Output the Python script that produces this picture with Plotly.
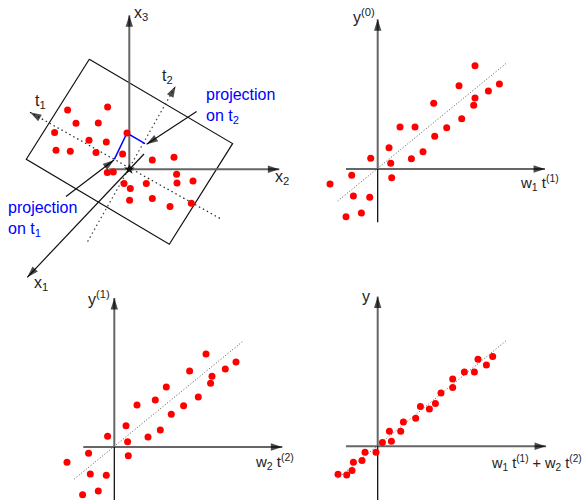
import plotly.graph_objects as go
from plotly.subplots import make_subplots

t_x = [-21.7, -61.7, -53.3, -31, -74.7, -2.3, -40.3, -23, -73.3, -59, -33.3, -6.7, 23,
       44.7, -22, -16, 47.3, 47.7, 63.7, -5.3, 17, 1, 0.3, 23, 40.7, 62]
t_y = [62.3, 59.3, 46, 46.3, 36.7, 36.3, 29, 27.3, 19, 18, 16.7, 15.3, 9.3,
       12, -3.3, -2.7, -5, -13.7, -11.7, -14.3, -14.3, -19.3, -31, -29.3, -37.3, -34]
plane_x = [-40, 103.3, 40, -103, -40]
plane_y = [110, 25.7, -75, 10, 110]
proj_x = [-15, -2.3, 15.7]
proj_y = [10, 36.3, 25.7]

y0_x = [97.3, 81.3, 121.7, 110.7, 97.3, 96, 56, 84, 22.3, 37.3, 69, 57,
        11.3, 45.3, -7, 33.7, 13, -26, 14, -47.7, -24.3, -8, -16.3, -31.7]
y0_y = [103.3, 83.3, 85, 78, 71, 63.7, 65.7, 50.3, 42, 42, 41.3, 32.7,
        21.3, 17.3, 10.7, 10.3, 5.7, -6.3, -8.7, -15, -27, -28.3, -44, -47.7]

y1_x = [91.7, 75.3, 121.7, 111, 97.7, 96.3, 52, 84, 41, 22.7, 69.3, 57,
        11.7, 46, -6.7, 33.7, 13.3, -25.7, 14, -47.3, -24, -8, -16, -31.7]
y1_y = [93, 76, 85, 78, 70.7, 63.7, 60, 50, 47, 42, 41.3, 32.7,
        21.3, 17, 10.7, 10, 5.3, -6.3, -8.7, -15.3, -27, -28.3, -44, -47.7]

y_x = [115, 100.3, 108.7, 86.7, 96.7, 75, 75, 63.3, 57.7, 42.7, 51.7, 38,
       25.7, 11.7, 23, 13.7, 4.7, -1.7, -12.7, -15.7, -24.3, -25.7, -39.7, -31]
y_y = [89.7, 87, 81.3, 74.3, 74.3, 67.3, 58.7, 53.3, 42.7, 39.7, 37.3, 28,
       24.3, 15, 15, 5, 3.7, -6, -6, -14.3, -16, -24.3, -28, -28.7]

fit_x = [-40, 128.3]
fit_y = [-32, 105.5]

RED = "#ff0000"
BLUE = "#0000ff"
GRAY = "#666666"
TEXT = "#222222"
FONT = "Liberation Sans"
WIDTH = 582
HEIGHT = 503
TOP_ROW = 292  # x1 label hangs far below the first panel

fig = make_subplots(rows=2, cols=2, horizontal_spacing=0, vertical_spacing=0,
                    row_heights=[TOP_ROW / HEIGHT, 1 - TOP_ROW / HEIGHT])


def line(x, y, row, col, color="#000000", width=1.0, dash="solid"):
    fig.add_trace(go.Scatter(x=x, y=y, mode="lines", showlegend=False, hoverinfo="skip",
                             line=dict(color=color, width=width, dash=dash)),
                  row=row, col=col)


def dots(x, y, row, col):
    fig.add_trace(go.Scatter(x=x, y=y, mode="markers", showlegend=False, cliponaxis=False,
                             marker=dict(color=RED, size=7)),
                  row=row, col=col)


def head(x, y, back_x, back_y, row, col, color="#000000"):
    # arrow head only, the shaft is a line trace. Marker turns along the two points
    fig.add_trace(go.Scatter(x=[x - back_x, x], y=[y - back_y, y], mode="markers",
                             showlegend=False, hoverinfo="skip", cliponaxis=False,
                             marker=dict(symbol="arrow", size=[0, 12], angleref="previous",
                                         color=color, line=dict(width=0))),
                  row=row, col=col)


def label(text, x, y, row, col, size=16, color=TEXT, anchor="center"):
    fig.add_annotation(x=x, y=y, xref="x", yref="y", row=row, col=col, text=text,
                       showarrow=False, xanchor=anchor, align="left",
                       font=dict(family=FONT, size=size, color=color))


def axes(xmin, xmax, ymin, ymax, row, col):
    line([xmin, xmax], [0, 0], row, col, GRAY, 2)
    line([0, 0], [0, ymax], row, col, GRAY, 2)
    line([0, 0], [ymin, 0], row, col, "#000000", 1.2)
    head(xmax, 0, 8, 0, row, col)
    head(0, ymax, 0, 8, row, col)


# panel 1, the plane in x space
line(plane_x, plane_y, 1, 1, "#111111", 1.2)
line([-99.3, 91.7], [57, -49.7], 1, 1, "#222222", 1.2, "1.5px,3px")
line([-41.7, 46.3], [-72.3, 83.3], 1, 1, "#444444", 1.2, "1.5px,3px")
head(-99.3, 57, -6, 3.4, 1, 1)
head(46.3, 83.3, 3.5, 6.5, 1, 1)
axes(-20, 150, 0, 154, 1, 1)
line([14.7, -102], [15.3, -108], 1, 1, "#111111", 1.2)
head(-102, -108, -6, -6.3, 1, 1)
line(proj_x, proj_y, 1, 1, BLUE, 1.5)
line([-63.3, -15.3], [-27.3, 9.3], 1, 1, "#111111", 1.2)
head(-15.3, 9.3, 6.5, 5, 1, 1)
line([67.3, 17.3], [57.7, 25], 1, 1, "#111111", 1.2)
head(17.3, 25, -6.5, -4.2, 1, 1)
dots(t_x, t_y, 1, 1)
fig.add_trace(go.Scatter(x=[0], y=[0], mode="markers", showlegend=False,
                         marker=dict(color="#111111", size=8, symbol="star")),
              row=1, col=1)
label("x<sub>3</sub>", 11.7, 155.8, 1, 1)
label("x<sub>2</sub>", 153, -8.2, 1, 1)
label("x<sub>1</sub>", -88, -114.2, 1, 1)
label("t<sub>1</sub>", -88.7, 68.3, 1, 1)
label("t<sub>2</sub>", 38, 93.3, 1, 1)
label("projection<br>on t<sub>2</sub>", 74.7, 63.3, 1, 1, color=BLUE, anchor="left")
label("projection<br>on t<sub>1</sub>", -123.3, -50, 1, 1, color=BLUE, anchor="left")

# panel 2
line(fit_x, fit_y, 1, 2, "#555555", 1, "1px,2px")
axes(-31.7, 167.3, -53.3, 149.7, 1, 2)
dots(y0_x, y0_y, 1, 2)
label("y<sup>(0)</sup>", -14, 153, 1, 2)
label("w<sub>1</sub> t<sup>(1)</sup>", 161.7, -13.7, 1, 2, size=15)

# panel 3
line(fit_x, fit_y, 2, 1, "#555555", 1, "1px,2px")
axes(-31, 168, -53, 149, 2, 1)
dots(y1_x, y1_y, 2, 1)
label("y<sup>(1)</sup>", -15.3, 148.7, 2, 1)
label("w<sub>2</sub> t<sup>(2)</sup>", 160, -14.7, 2, 1, size=15)

# panel 4
line(fit_x, fit_y, 2, 2, "#555555", 1, "1px,2px")
axes(-31.7, 168.3, -53.7, 149.7, 2, 2)
dots(y_x, y_y, 2, 2)
label("y", -11.3, 150, 2, 2)
label("w<sub>1</sub> t<sup>(1)</sup> + w<sub>2</sub> t<sup>(2)</sup>", 158.5, -17, 2, 2, size=14.5)

# one unit is one pixel, the origins place each panel in the window
origins = {(1, 1): (129.3, 169.3), (1, 2): (377.7, 169), (2, 1): (114.3, 447), (2, 2): (377.7, 446.3)}
for (row, col), (ox, oy) in origins.items():
    left = (WIDTH / 2) * (col - 1)
    top, bottom = (0, TOP_ROW) if row == 1 else (TOP_ROW, HEIGHT)
    fig.update_xaxes(range=[left - ox, left + WIDTH / 2 - ox], visible=False, row=row, col=col)
    fig.update_yaxes(range=[oy - bottom, oy - top], visible=False, row=row, col=col)

fig.update_layout(
    width=WIDTH,
    height=HEIGHT,
    margin={"l": 0, "r": 0, "t": 0, "b": 0},
    plot_bgcolor="white",
    paper_bgcolor="white",
    showlegend=False,
    font=dict(family=FONT),
)

# the browser's default body margin would shift the whole figure by 8px
fig.write_html("out.html", config={"displayModeBar": False},
               post_script="document.body.style.margin = '0';")
